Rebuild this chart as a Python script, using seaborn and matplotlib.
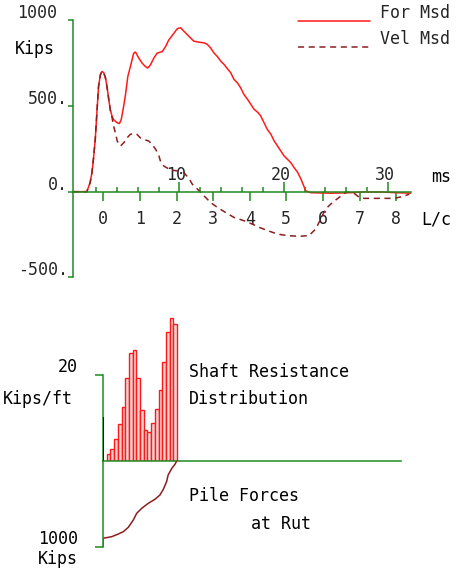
import numpy as np
import pandas as pd
import matplotlib
matplotlib.use("Agg")
import matplotlib.pyplot as plt
import matplotlib.transforms as mtransforms
from matplotlib.lines import Line2D
from matplotlib.legend_handler import HandlerLine2D
import seaborn as sns

# ---- measured records at the gauges (time in L/c, values in kips) ----
force_t = [-0.83, -0.45, -0.36, -0.31, -0.27, -0.22, -0.17, -0.13, -0.08, -0.04,
           0.01, 0.06, 0.10, 0.15, 0.19, 0.24, 0.28, 0.38, 0.44, 0.49,
           0.54, 0.60, 0.67, 0.74, 0.83, 0.88, 0.97, 1.06, 1.15, 1.21,
           1.29, 1.38, 1.47, 1.61, 1.70, 1.79, 1.93, 2.02, 2.11, 2.20,
           2.29, 2.38, 2.47, 2.61, 2.75, 2.84, 2.93, 3.02, 3.12, 3.21,
           3.30, 3.39, 3.48, 3.57, 3.66, 3.75, 3.84, 3.94, 4.03, 4.12,
           4.23, 4.30, 4.39, 4.48, 4.58, 4.67, 4.76, 4.85, 4.94, 5.03,
           5.12, 5.21, 5.31, 5.40, 5.48, 5.53, 5.67, 6.22, 6.77, 7.04,
           7.59, 8.00, 8.41]
force_kips = [0, 0, 53, 111, 188, 304, 478, 613, 681, 700,
              694, 662, 613, 536, 478, 439, 420, 401, 397, 420,
              478, 555, 671, 729, 807, 813, 778, 749, 729, 720,
              739, 778, 807, 816, 845, 884, 923, 949, 955, 935,
              916, 896, 877, 871, 867, 858, 838, 809, 786, 760,
              741, 716, 693, 654, 635, 606, 567, 538, 509, 480,
              460, 441, 402, 363, 334, 295, 266, 237, 208, 189,
              170, 141, 112, 73, 32, 5, -6, -9, -6, -2,
              -2, -6, -9]

vel_t = [-0.83, -0.45, -0.36, -0.31, -0.27, -0.22, -0.17, -0.13, -0.08, -0.04,
         0.01, 0.06, 0.10, 0.15, 0.19, 0.24, 0.28, 0.33, 0.38, 0.47,
         0.56, 0.65, 0.74, 0.83, 0.92, 1.01, 1.10, 1.24, 1.33, 1.43,
         1.52, 1.56, 1.65, 1.84, 2.02, 2.20, 2.34, 2.43, 2.57, 2.75,
         2.93, 3.12, 3.34, 3.57, 3.84, 4.07, 4.26, 4.49, 4.76, 5.03,
         5.35, 5.62, 5.80, 5.94, 6.07, 6.26, 6.44, 6.62, 6.80, 7.00,
         7.13, 7.50, 7.95, 8.18, 8.36]
vel_kips = [0, 0, 53, 111, 188, 304, 478, 613, 681, 700,
            694, 662, 613, 536, 478, 430, 382, 343, 295, 266,
            285, 314, 334, 339, 334, 314, 305, 295, 276, 247,
            208, 179, 150, 126, 121, 111, 77, 44, 15, -24,
            -63, -92, -121, -150, -169, -189, -208, -227, -247, -256,
            -260, -256, -218, -160, -102, -63, -34, -5, -1, -34,
            -39, -39, -39, -28, -15]

lc_ticks = [0, 1, 2, 3, 4, 5, 6, 7, 8]
ms_major = [10, 20, 30]
ms_minor = [2, 4, 6, 8, 12, 14, 16, 18, 22, 24, 26, 28]
ms_at_lc0 = 2.7
ms_per_lc = 3.51
y_ticks = [1000, 500, 0, -500]
y_tick_labels = ["1000", "500.", "0.", "-500."]

# ---- shaft resistance per pile segment (kips/ft) ----
seg_index = list(range(1, 20))
shaft_res = [1.7, 2.9, 5.2, 8.5, 12.5, 19.4, 25.2, 25.7, 19.2, 11.8,
             7.3, 6.8, 8.9, 12.0, 16.5, 23.0, 30.0, 33.3, 31.8]
res_tick = 20
top_marker = 10.2

# ---- pile force along the pile at RUT (segment, kips) ----
pf_depth = [0, 0, 2.35, 4.14, 5.49, 6.84, 8.19, 9.11, 10.46, 12.24,
            14.05, 15.4, 16.3, 17.2, 17.6, 18.6, 19.5, 19.9]
pf_kips = [1000, 899, 880, 849, 822, 771, 686, 608, 550, 492,
           445, 395, 329, 240, 163, 85, 35, 0]
pf_tick = 1000

GREEN = "#1f8a1f"
RED = "#ff1a1a"
DARK = "#8b1f1f"
FS = 12

sns.set_theme(style="white")
plt.rcParams["font.family"] = ["DejaVu Sans Mono", "DejaVu Sans"]
plt.rcParams["font.size"] = FS

W, H = 458, 571
fig = plt.figure(figsize=(W / 100, H / 100), dpi=100)


def rect(left, top, right, bottom):
    return [left / W, 1 - bottom / H, (right - left) / W, (bottom - top) / H]


def label(x, y, s, ha="left"):
    fig.text(x / W, 1 - y / H, s, ha=ha, va="center", fontsize=FS, color="black")


# ======================= force / velocity record =======================
ax = fig.add_axes(rect(73, 20, 411, 277.5))
sns.lineplot(x=force_t, y=force_kips, ax=ax, sort=False, estimator=None,
             color=RED, linewidth=1.1, label="For Msd")
sns.lineplot(x=vel_t, y=vel_kips, ax=ax, sort=False, estimator=None,
             color=DARK, linewidth=1.1, linestyle=(0, (4, 3)), label="Vel Msd")
ax.set_xlim(-0.828, 8.407)
ax.set_ylim(-500, 1000)
ax.set(xlabel="", ylabel="")
ax.set_facecolor("none")
for side in ("top", "right"):
    ax.spines[side].set_visible(False)
for side in ("left", "bottom"):
    ax.spines[side].set_color(GREEN)
    ax.spines[side].set_linewidth(1.1)
ax.spines["bottom"].set_position(("data", 0))
ax.set_xticks(lc_ticks)
ax.tick_params(axis="x", direction="out", length=6.5, width=1.1, color=GREEN,
               pad=7, labelsize=FS, bottom=True)
ax.set_yticks(y_ticks)
ax.set_yticklabels([])
ax.tick_params(axis="y", direction="out", length=3.6, width=1.1, color=GREEN, left=True)

for v, s in zip(y_ticks, y_tick_labels):
    dx = -16 if s == "1000" else -5
    ax.annotate(s, xy=(0, v), xycoords=("axes fraction", "data"),
                xytext=(dx, 7), textcoords="offset pixels",
                ha="right", va="center", fontsize=FS)

# millisecond scale riding on the zero line
secax = ax.secondary_xaxis(
    1 / 3,
    functions=(lambda v: ms_at_lc0 + ms_per_lc * np.asarray(v),
               lambda m: (np.asarray(m) - ms_at_lc0) / ms_per_lc))
secax.set_alignment("top")
secax.set_xticks(ms_major)
secax.set_xticks(ms_minor, minor=True)
secax.tick_params(which="major", direction="out", length=7.2, width=1.1,
                  color=GREEN, pad=-1.5, labelsize=FS)
secax.tick_params(which="minor", direction="out", length=3.6, width=1.1, color=GREEN)
for sp in secax.spines.values():
    sp.set_visible(False)
shift_left = mtransforms.ScaledTranslation(-3 / 100, 0, fig.dpi_scale_trans)
for lbl in secax.get_xticklabels():
    lbl.set_transform(lbl.get_transform() + shift_left)

label(15, 49, "Kips")
label(431, 177, "ms")
label(421, 219, "L/c")


class ShiftedLine(HandlerLine2D):
    def __init__(self, dy, **kw):
        super().__init__(**kw)
        self.dy = dy

    def create_artists(self, legend, orig_handle, xdescent, ydescent,
                       width, height, fontsize, trans):
        arts = super().create_artists(legend, orig_handle, xdescent, ydescent,
                                      width, height, fontsize, trans)
        for a in arts:
            a.set_ydata(np.asarray(a.get_ydata(), float) + self.dy)
        return arts


ax.legend(loc="upper left", bbox_to_anchor=(298 / W, 1 - 4 / H),
          bbox_transform=fig.transFigure, frameon=False, fontsize=FS,
          handlelength=4.32, handletextpad=0.6, labelspacing=0.5,
          borderpad=0, borderaxespad=0,
          handler_map={Line2D: ShiftedLine(-6)})

# ======================= shaft resistance bars =======================
res_df = pd.DataFrame({"segment": seg_index, "resistance": shaft_res})
px_per_unit = 86 / 20
axb = fig.add_axes(rect(103, 461 - 35 * px_per_unit, 401, 461))
sns.histplot(data=res_df, x="segment", weights="resistance",
             bins=list(range(1, 21)), ax=axb,
             facecolor="#f3d2d2", edgecolor=RED, linewidth=1.0, alpha=1)
axb.vlines(0, 0, top_marker, color="black", linewidth=1.2, zorder=5)
axb.set_xlim(0, 80.54)
axb.set_ylim(0, 35)
axb.set(xlabel="", ylabel="")
axb.set_facecolor("none")
for side in ("top", "right"):
    axb.spines[side].set_visible(False)
for side in ("left", "bottom"):
    axb.spines[side].set_color(GREEN)
    axb.spines[side].set_linewidth(1.1)
axb.spines["left"].set_bounds(0, res_tick)
axb.set_xticks([])
axb.set_yticks([res_tick])
axb.set_yticklabels([])
axb.tick_params(axis="y", direction="out", length=5.8, width=1.1, color=GREEN, left=True)

# ======================= pile force along the pile =======================
axf = fig.add_axes(rect(103, 461, 401, 547))
sns.lineplot(x=pf_depth, y=pf_kips, ax=axf, sort=False, estimator=None,
             color=DARK, linewidth=1.1)
axf.set_xlim(0, 80.54)
axf.set_ylim(1000, 0)
axf.set(xlabel="", ylabel="")
axf.set_facecolor("none")
for side in ("top", "right", "bottom"):
    axf.spines[side].set_visible(False)
axf.spines["left"].set_color(GREEN)
axf.spines["left"].set_linewidth(1.1)
axf.set_xticks([])
axf.set_yticks([pf_tick])
axf.set_yticklabels([])
axf.tick_params(axis="y", direction="out", length=5.8, width=1.1, color=GREEN, left=True)

label(78, 367.5, "20", ha="right")
label(73, 399, "Kips/ft", ha="right")
label(78, 539, "1000", ha="right")
label(78, 559, "Kips", ha="right")
label(189, 372, "Shaft Resistance")
label(189, 399, "Distribution")
label(189, 496, "Pile Forces")
label(251, 524, "at Rut")

fig.savefig("out.png", dpi=100)
